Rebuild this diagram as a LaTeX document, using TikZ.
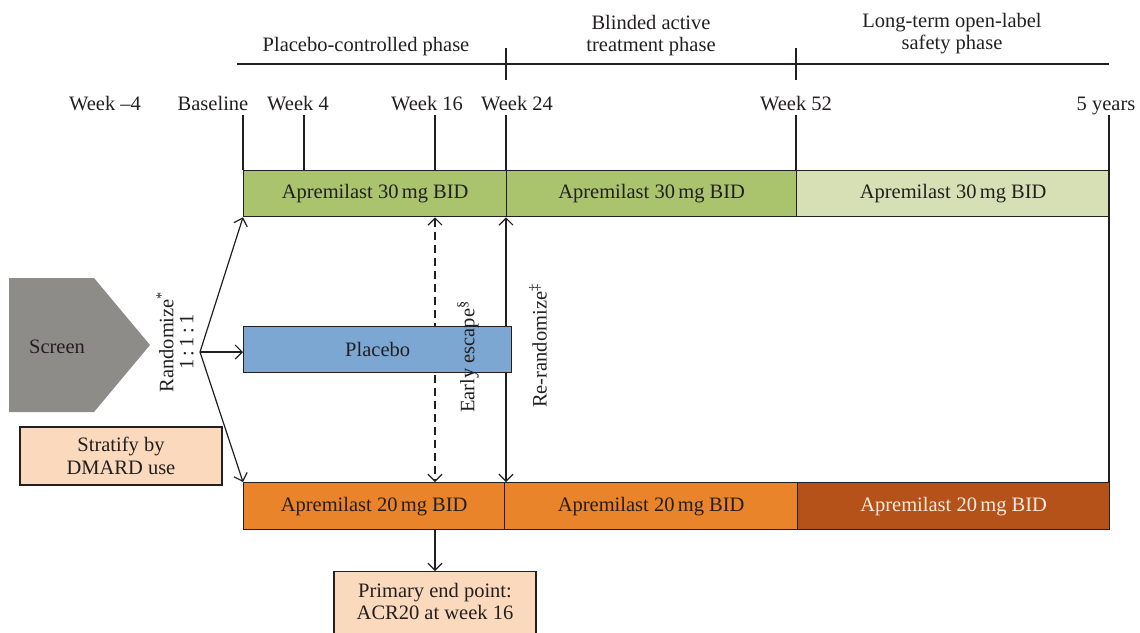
\documentclass[tikz,border=0pt]{standalone}
\usepackage{fontspec}
\setmainfont{Liberation Serif}
\usetikzlibrary{arrows.meta}
\definecolor{barGreen}{HTML}{A9C46C}
\definecolor{barLight}{HTML}{D6E0B4}
\definecolor{barBlue}{HTML}{7CA7D3}
\definecolor{barOrange}{HTML}{E9842A}
\definecolor{barDark}{HTML}{B55219}
\definecolor{peach}{HTML}{FAD9BC}
\definecolor{screenGray}{HTML}{8E8C89}
\definecolor{ink}{HTML}{231F20}
\definecolor{paleText}{HTML}{F8ECE2}
\tikzset{
  bar/.style={draw=ink, line width=1.3pt, anchor=north west, minimum height=46pt, inner sep=0pt, font=\fontsize{20.5}{22}\selectfont, text=ink},
  lbl/.style={font=\fontsize{20.5}{22}\selectfont, text=ink, align=center, inner sep=0pt},
  wk/.style={lbl, anchor=base},
  boxnote/.style={draw=ink, line width=1.3pt, fill=peach, inner sep=0pt, font=\fontsize{20.5}{22.5}\selectfont, text=ink, align=center, minimum width=202pt},
  arr/.style={-{Straight Barb[length=7pt,width=14pt]}, line width=1.2pt, draw=ink},
  arrboth/.style={{Straight Barb[length=7pt,width=14pt]}-{Straight Barb[length=7pt,width=14pt]}, line width=1.2pt, draw=ink},
  tickline/.style={line width=1.2pt, draw=ink}
}
\begin{document}
\begin{tikzpicture}[x=1pt,y=-1pt]
\useasboundingbox (0,0) rectangle (1140,632);

% phase header
\node[lbl] (ph1) at (366,47) {Placebo-controlled phase};
\node[lbl] (ph2) at (651,36) {Blinded active\\treatment phase};
\node[lbl] (ph3) at (952,34) {Long-term open-label\\safety phase};
\coordinate (pl0) at (237,64);
\coordinate (pl1) at (1109,64);
\coordinate (pt24) at (506,48);
\coordinate (pt52) at (796,48);
\draw[tickline] (pl0) -- (pl1);
\draw[tickline] (pt24) -- ++(0,32);
\draw[tickline] (pt52) -- ++(0,32);

% week labels
\node[wk] (wm4) at (105,110) {Week --4};
\node[wk] (wb) at (213,110) {Baseline};
\node[wk] (w4) at (298,110) {Week 4};
\node[wk] (w16) at (427,110) {Week 16};
\node[wk] (w24) at (517,110) {Week 24};
\node[wk] (w52) at (796,110) {Week 52};
\node[wk] (w5y) at (1106,110) {5 years};

% bars
\node[bar, fill=barGreen, minimum width=263pt] (g1) at (243,170) {Apremilast 30\,mg BID};
\node[bar, fill=barGreen, minimum width=290pt] (g2) at (506,170) {Apremilast 30\,mg BID};
\node[bar, fill=barLight, minimum width=313pt] (g3) at (796,170) {Apremilast 30\,mg BID};
\node[bar, fill=barOrange, minimum width=261pt, minimum height=47pt] (o1) at (243,482) {Apremilast 20\,mg BID};
\node[bar, fill=barOrange, minimum width=293pt, minimum height=47pt] (o2) at (504,482) {Apremilast 20\,mg BID};
\node[bar, fill=barDark, minimum width=312pt, minimum height=47pt, text=paleText] (o3) at (797,482) {Apremilast 20\,mg BID};

% ticks
\coordinate (tb) at (243,115);
\coordinate (t4) at (304,115);
\coordinate (t16) at (435,115);
\coordinate (t24) at (506,115);
\coordinate (t52) at (796,115);
\coordinate (t5y) at (1109,115);
\draw[tickline] (tb) -- (tb |- g1.north);
\draw[tickline] (t4) -- (t4 |- g1.north);
\draw[tickline] (t16) -- (t16 |- g1.north);
\draw[tickline] (t24) -- (t24 |- g1.north);
\draw[tickline] (t52) -- (t52 |- g1.north);
\draw[tickline] (t5y) -- (t5y |- o3.north);

% escape / re-randomize arrows
\draw[arrboth, dash pattern=on 8pt off 5pt] (t16 |- g1.south) -- (t16 |- o1.north);
\draw[arrboth] (t24 |- g1.south) -- (t24 |- o1.north);

% placebo
\node[bar, fill=barBlue, minimum width=268pt] (pl) at (243,326) {Placebo};

% screen
\fill[screenGray] (9,278) -- (94,278) -- (150,345) -- (94,412) -- (9,412) -- cycle;
\node[lbl] (scr) at (57,347) {Screen};

% randomize
\node[lbl, rotate=90, font=\fontsize{20.5}{20}\selectfont] (rand) at (175,342) {Randomize\textsuperscript{*}\\1\,:\,1\,:\,1};
\coordinate (br) at (200,352);
\draw[arr] (br) -- (g1.south west);
\draw[arr] (br) -- (br -| pl.west);
\draw[arr] (br) -- (o1.north west);

% rotated labels
\node[lbl, rotate=90] (esc) at (468,357) {Early escape\textsuperscript{\S}};
\node[lbl, rotate=90] (rer) at (538,346) {Re-randomize\textsuperscript{‡}};

% notes
\node[boxnote, minimum height=58pt] (strat) at (121,456) {Stratify by\\DMARD use};
\node[boxnote, minimum height=72pt, anchor=north] (prim) at (435,571) {};
\node[lbl] (primtxt) at (435,601) {Primary end point:\\ACR20 at week 16};
\draw[arr] (t16 |- o1.south) -- (prim.north);
\end{tikzpicture}
\end{document}
